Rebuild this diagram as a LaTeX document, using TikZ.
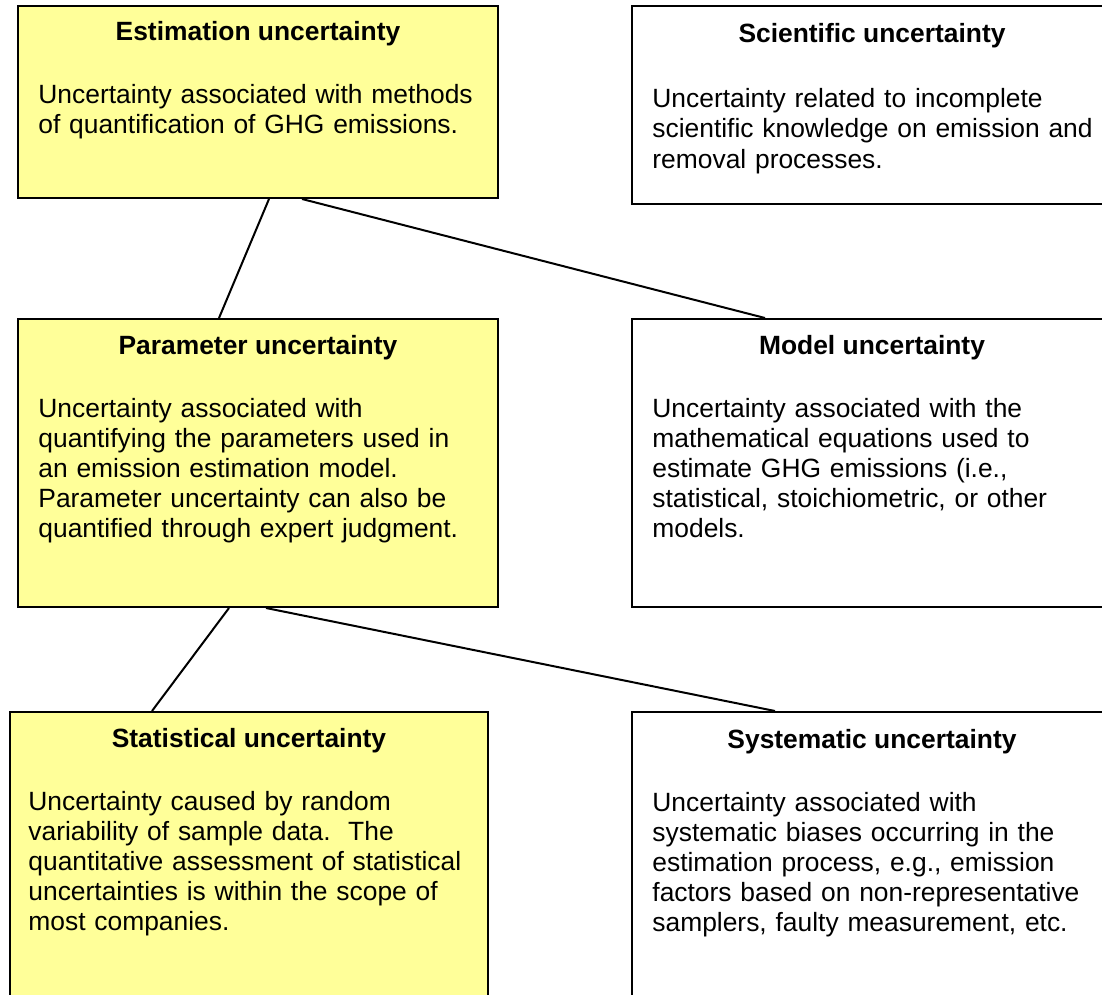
\documentclass[tikz,border=0pt]{standalone}
\usepackage{fontspec}
\setmainfont{Liberation Sans}
\usetikzlibrary{calc}
\definecolor{noteyellow}{RGB}{255,255,153}

\begin{document}
\begin{tikzpicture}[x=0.5pt,y=-0.5pt,
  box/.style={draw=black,line width=1pt,minimum width=240pt,anchor=north west,inner sep=0pt},
  yellowbox/.style={box,fill=noteyellow},
  whitebox/.style={box,fill=white},
  head/.style={anchor=base,inner sep=0pt,font=\fontsize{13.2pt}{15pt}\selectfont\bfseries},
  body/.style={anchor=base west,inner sep=0pt,align=left,text width=235pt,font=\fontsize{13.2pt}{15pt}\selectfont},
  link/.style={line width=1pt}]

% Frame of the page
\useasboundingbox (0,0) rectangle (1102,995);
\clip (0,0) rectangle (1102,995);

% Boxes
\node[yellowbox,minimum height=96pt] (est) at (17,5) {};
\node[whitebox,minimum height=99pt] (sci) at (631,5) {};
\node[yellowbox,minimum height=144pt] (par) at (17,318) {};
\node[whitebox,minimum height=144pt] (mod) at (631,318) {};
\node[yellowbox,minimum height=144pt,minimum width=239pt] (stat) at (9,711) {};
\node[whitebox,minimum height=144pt] (sys) at (631,711) {};

% Headings
\node[head] (estH) at ($(est.north)+(0,36)$) {Estimation uncertainty};
\node[head] (sciH) at ($(sci.north)+(0,38)$) {Scientific uncertainty};
\node[head] (parH) at ($(par.north)+(0,36)$) {Parameter uncertainty};
\node[head] (modH) at ($(mod.north)+(0,36)$) {Model uncertainty};
\node[head] (statH) at ($(stat.north)+(0,36)$) {Statistical uncertainty};
\node[head] (sysH) at ($(sys.north)+(0,37)$) {Systematic uncertainty};

% Descriptions
\node[body] (estB) at ($(est.north west)+(21,99)$) {Uncertainty associated with methods\\
of quantification of GHG emissions.};
\node[body] (sciB) at ($(sci.north west)+(21,103)$) {Uncertainty related to incomplete\\
scientific knowledge on emission and\\
removal processes.};
\node[body] (parB) at ($(par.north west)+(21,99)$) {Uncertainty associated with\\
quantifying the parameters used in\\
an emission estimation model.\\
Parameter uncertainty can also be\\
quantified through expert judgment.};
\node[body] (modB) at ($(mod.north west)+(21,99)$) {Uncertainty associated with the\\
mathematical equations used to\\
estimate GHG emissions (i.e.,\\
statistical, stoichiometric, or other\\
models.};
\node[body] (statB) at ($(stat.north west)+(19,99)$) {Uncertainty caused by random\\
variability of sample data.\ \ The\\
quantitative assessment of statistical\\
uncertainties is within the scope of\\
most companies.};
\node[body] (sysB) at ($(sys.north west)+(21,100)$) {Uncertainty associated with\\
systematic biases occurring in the\\
estimation process, e.g., emission\\
factors based on non-representative\\
samplers, faulty measurement, etc.};

% Connector ends
\coordinate (estL) at ($(est.south)+(11,0)$);
\coordinate (estR) at ($(est.south)+(44,0)$);
\coordinate (parT) at ($(par.north)+(-39,0)$);
\coordinate (modT) at ($(mod.north west)+(134,0)$);
\coordinate (parL) at ($(par.south)+(-29,0)$);
\coordinate (parR) at ($(par.south)+(8,0)$);
\coordinate (statT) at ($(stat.north)+(-97,0)$);
\coordinate (sysT) at ($(sys.north west)+(144,0)$);

% Connectors
\draw[link] (estL) -- (parT);
\draw[link] (estR) -- (modT);
\draw[link] (parL) -- (statT);
\draw[link] (parR) -- (sysT);
\end{tikzpicture}
\end{document}
